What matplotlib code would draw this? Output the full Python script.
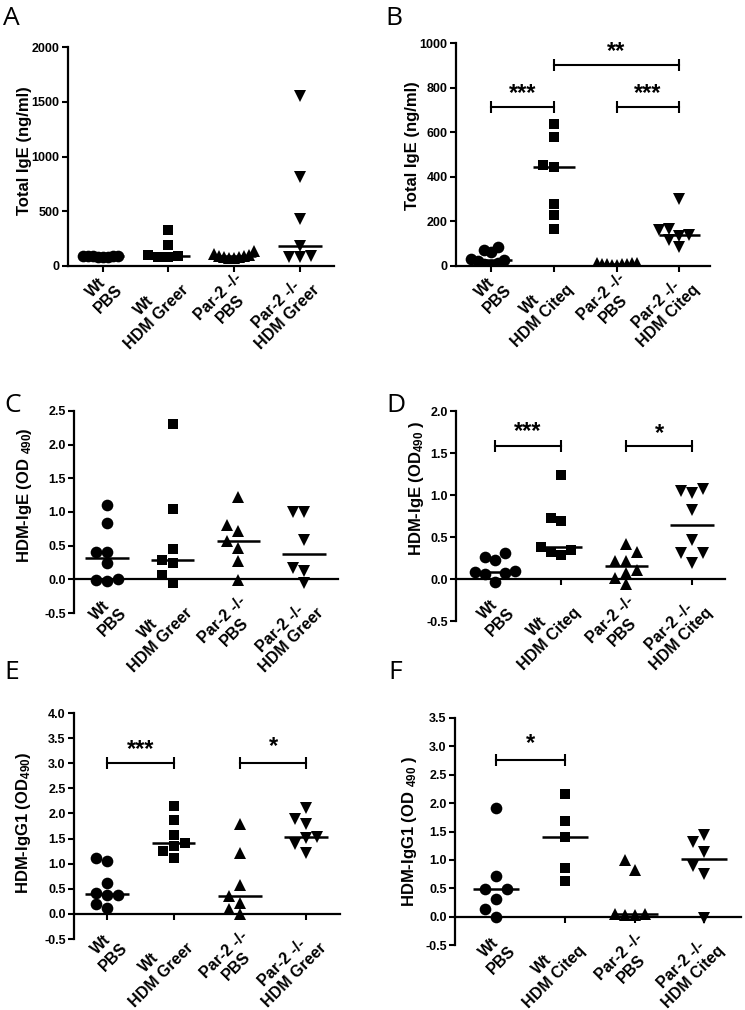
import numpy as np
import matplotlib
matplotlib.use('Agg')
import matplotlib.pyplot as plt
from matplotlib.ticker import FormatStrFormatter

plt.rcParams['font.family'] = 'Liberation Sans'
plt.rcParams['font.weight'] = 'bold'
plt.rcParams['axes.labelweight'] = 'bold'
plt.rcParams['axes.unicode_minus'] = False
plt.rcParams['mathtext.fontset'] = 'custom'
plt.rcParams['mathtext.bf'] = 'Liberation Sans:bold'
plt.rcParams['mathtext.rm'] = 'Liberation Sans:bold'
plt.rcParams['mathtext.default'] = 'bf'

W, H = 745, 1010

groups_greer = ['Wt\nPBS', 'Wt\nHDM Greer', 'Par-2 -/-\nPBS', 'Par-2 -/-\nHDM Greer']
groups_citeq = ['Wt\nPBS', 'Wt\nHDM Citeq', 'Par-2 -/-\nPBS', 'Par-2 -/-\nHDM Citeq']
markers = ['o', 's', '^', 'v']

# A - total IgE, HDM Greer
a_wt_pbs = [95, 90, 85, 92, 88, 80, 90, 86]
a_wt_hdm = [330, 195, 100, 90, 80, 85]
a_par2_pbs = [70, 80, 90, 100, 140, 85, 95, 75, 110]
a_par2_hdm = [1550, 810, 430, 180, 85, 80, 90]

# B - total IgE, HDM Citeq
b_wt_pbs = [85, 72, 62, 32, 28, 24, 15, 5, 10]
b_wt_hdm = [637, 577, 442, 453, 277, 228, 168]
b_par2_pbs = [5, 8, 10, 12, 15, 10, 6, 12, 8]
b_par2_hdm = [300, 165, 160, 140, 135, 115, 85]
b_sig = [(0, 1, 712, '***', 775), (1, 3, 900, '**', 962), (2, 3, 712, '***', 775)]

# C - HDM-IgE, HDM Greer
c_wt_pbs = [1.10, 0.83, 0.40, 0.41, 0.24, 0.0, -0.02, -0.01]
c_wt_hdm = [2.30, 1.05, 0.45, 0.29, 0.24, 0.07, -0.06]
c_par2_pbs = [1.23, 0.81, 0.72, 0.47, 0.57, 0.27, -0.01]
c_par2_hdm = [1.0, 1.0, 0.58, 0.17, 0.12, -0.06]

# D - HDM-IgE, HDM Citeq
d_wt_pbs = [0.31, 0.26, 0.23, 0.09, 0.07, 0.06, 0.08, -0.03]
d_wt_hdm = [1.24, 0.73, 0.69, 0.34, 0.38, 0.29, 0.32]
d_par2_pbs = [0.42, 0.32, 0.21, 0.21, 0.11, 0.07, -0.06, 0.01]
d_par2_hdm = [1.05, 1.02, 1.07, 0.82, 0.47, 0.31, 0.31, 0.19]
d_sig = [(0, 1, 1.58, '***', 1.75), (2, 3, 1.58, '*', 1.73)]

# E - HDM-IgG1, HDM Greer
e_wt_pbs = [1.05, 1.11, 0.62, 0.38, 0.38, 0.42, 0.12, 0.20]
e_wt_hdm = [2.14, 1.86, 1.58, 1.35, 1.41, 1.25, 1.11]
e_par2_pbs = [1.78, 1.21, 0.58, 0.35, 0.22, 0.0, 0.10]
e_par2_hdm = [2.11, 1.89, 1.78, 1.53, 1.51, 1.40, 1.21]
e_sig = [(0, 1, 3.0, '***', 3.27), (2, 3, 3.0, '*', 3.34)]

# F - HDM-IgG1, HDM Citeq
f_wt_pbs = [1.92, 0.71, 0.48, 0.48, 0.31, 0.13, 0.0]
f_wt_hdm = [2.16, 1.69, 1.40, 0.85, 0.62]
f_par2_pbs = [0.99, 0.83, 0.05, 0.03, 0.02, 0.04]
f_par2_hdm = [1.44, 1.31, 1.13, 0.90, 0.75, -0.03]
f_sig = [(0, 1, 2.76, '*', 3.05)]


def rect(l, r, t, b):
    return [l / W, 1 - b / H, (r - l) / W, (b - t) / H]


def swarm(ax, x0, vals, d=11.0, maxw=20.0):
    # simple beeswarm in pixel space, squeezed if too wide
    pts = ax.transData.transform(np.column_stack([np.full(len(vals), x0), vals]))
    ys = pts[:, 1]
    offs = np.zeros(len(vals))
    placed = []
    for i in np.argsort(ys):
        k = 0
        while True:
            step = ((k + 1) // 2) * (-1 if k % 2 else 1)
            ok = all(not (abs(ox - step * d) < d * 0.95 and abs(oy - ys[i]) < d * 0.95)
                     for ox, oy in placed)
            if ok:
                break
            k += 1
        offs[i] = step * d
        placed.append((step * d, ys[i]))
    m = np.abs(offs).max()
    if m > maxw:
        offs = offs * maxw / m
    unit = ax.transData.transform((1, 0))[0] - ax.transData.transform((0, 0))[0]
    return x0 + offs / unit


def draw(fig, box, xlim, letter, lpos, groups, data, ylim, yticks, ylabel, ylab,
         fmt=None, sig=(), xpad=6, xtick_len=4):
    l, r, t, b = box
    ax = fig.add_axes(rect(*box))
    ax.set_xlim(*xlim)
    ax.set_ylim(*ylim)
    for i, vals in enumerate(data):
        xs = swarm(ax, i, vals)
        ms = 7.6 if markers[i] == 's' else 8.4
        ax.plot(xs, vals, linestyle='none', marker=markers[i], ms=ms, color='black', mew=0)
        med = np.median(vals)
        ax.plot([i - 0.33, i + 0.33], [med, med], color='black', lw=1.8, solid_capstyle='butt')
    for x1, x2, y, txt, ty in sig:
        ax.plot([x1, x2], [y, y], color='black', lw=1.5, marker='|', ms=9, mew=1.5)
        ax.text((x1 + x2) / 2, ty, txt, ha='center', va='center', fontsize=17)
    ax.spines['top'].set_visible(False)
    ax.spines['right'].set_visible(False)
    ax.spines['left'].set_linewidth(1.6)
    ax.spines['bottom'].set_linewidth(1.6)
    ax.spines['bottom'].set_position(('data', 0))
    ax.set_yticks(yticks)
    if fmt:
        ax.yaxis.set_major_formatter(FormatStrFormatter(fmt))
    ax.set_xticks(range(len(groups)))
    ax.set_xticklabels(groups, rotation=45, ha='right', va='top',
                       rotation_mode='anchor', multialignment='center', fontsize=11.5)
    ax.tick_params(axis='both', direction='out', length=4, width=1.5)
    ax.tick_params(axis='y', labelsize=9, pad=2)
    ax.tick_params(axis='x', pad=xpad, length=xtick_len)
    for lbl in ax.get_yticklabels():
        lbl.set_fontweight('bold')
    ax.set_ylabel(ylabel, fontsize=12)
    # label centre given in figure pixels
    ax.yaxis.set_label_coords((ylab[0] + 9 - l) / (r - l), (b - ylab[1]) / (b - t))
    fig.text(lpos[0] / W, 1 - lpos[1] / H, letter, fontsize=19, family='Open Sans',
             weight='normal', va='baseline')
    return ax


fig = plt.figure(figsize=(W / 100, H / 100), dpi=100)

draw(fig, (68, 334, 47, 266), (-0.53, 3.52), 'A', (3, 25), groups_greer,
     [a_wt_pbs, a_wt_hdm, a_par2_pbs, a_par2_hdm], (0, 2000),
     [0, 500, 1000, 1500, 2000], 'Total IgE (ng/ml)', (23, 151), xpad=-1)
draw(fig, (456, 710, 43, 266), (-0.56, 3.49), 'B', (385, 25), groups_citeq,
     [b_wt_pbs, b_wt_hdm, b_par2_pbs, b_par2_hdm], (0, 1000),
     [0, 200, 400, 600, 800, 1000], 'Total IgE (ng/ml)', (411, 146), sig=b_sig, xpad=-1)
draw(fig, (74, 338, 411, 613), (-0.50, 3.52), 'C', (4, 412), groups_greer,
     [c_wt_pbs, c_wt_hdm, c_par2_pbs, c_par2_hdm], (-0.5, 2.5),
     [-0.5, 0, 0.5, 1, 1.5, 2, 2.5], 'HDM-IgE (OD $_{490}$)', (25, 495), fmt='%.1f',
     xpad=10, xtick_len=0)
draw(fig, (456, 725, 411, 621), (-0.59, 3.50), 'D', (386, 412), groups_citeq,
     [d_wt_pbs, d_wt_hdm, d_par2_pbs, d_par2_hdm], (-0.5, 2.0),
     [-0.5, 0, 0.5, 1, 1.5, 2], 'HDM-IgE (OD$_{490}$ )', (417, 488), fmt='%.1f', sig=d_sig)
draw(fig, (74, 340, 713, 939), (-0.50, 3.51), 'E', (4, 679), groups_greer,
     [e_wt_pbs, e_wt_hdm, e_par2_pbs, e_par2_hdm], (-0.5, 4.0),
     [-0.5, 0, 0.5, 1, 1.5, 2, 2.5, 3, 3.5, 4], 'HDM-IgG1 (OD$_{490}$)', (24, 823),
     fmt='%.1f', sig=e_sig)
draw(fig, (455, 741, 718, 945), (-0.59, 3.53), 'F', (388, 679), groups_citeq,
     [f_wt_pbs, f_wt_hdm, f_par2_pbs, f_par2_hdm], (-0.5, 3.5),
     [-0.5, 0, 0.5, 1, 1.5, 2, 2.5, 3, 3.5], 'HDM-IgG1 (OD $_{490}$ )', (410, 831),
     fmt='%.1f', sig=f_sig)

fig.savefig('out.png', dpi=100)
